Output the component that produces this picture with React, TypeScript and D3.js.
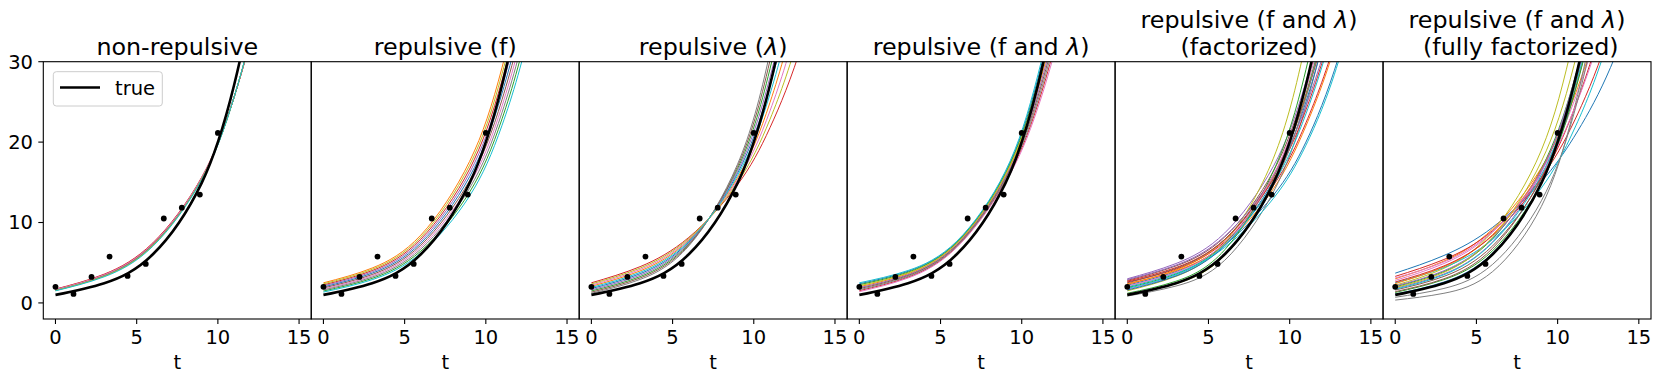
import React from 'react';
import * as d3 from 'd3';

const tKnots = [0, 3, 6, 9, 11, 13, 15];

// noisy observations (black dots)
const obsT = [0, 1.11, 2.22, 3.33, 4.44, 5.56, 6.67, 7.78, 8.89, 10];
const obsY = [2.0, 1.12, 3.23, 5.76, 3.36, 4.85, 10.5, 11.85, 13.47, 21.14];

// ground truth curve
const trueY = [1.0, 2.46, 6.05, 14.9, 27.1, 49.4, 90.0];

const xTicks = [0, 5, 10, 15];
const yTicks = [0, 10, 20, 30];

const panelTitles = [
  ['non-repulsive'],
  ['repulsive (f)'],
  ['repulsive (λ)'],
  ['repulsive (f and λ)'],
  ['repulsive (f and λ)', '(factorized)'],
  ['repulsive (f and λ)', ' (fully factorized)'],
];

// ensemble members per panel, colour = tab10 by index
const nonRepulsive = [
  [1.6, 3.4, 7.25, 15.45, 25.6, 42.3, 70],
  [1.68, 3.52, 7.4, 15.55, 25.6, 42.0, 69],
  [1.58, 3.38, 7.22, 15.43, 25.6, 42.4, 70],
  [1.72, 3.58, 7.48, 15.62, 25.6, 41.7, 68],
  [1.62, 3.44, 7.3, 15.5, 25.6, 42.2, 69],
  [1.64, 3.46, 7.33, 15.5, 25.6, 42.1, 69],
  [1.66, 3.5, 7.38, 15.55, 25.6, 42.0, 69],
  [1.56, 3.35, 7.18, 15.4, 25.6, 42.5, 71],
  [1.54, 3.32, 7.14, 15.38, 25.6, 42.6, 71],
  [1.5, 3.25, 7.05, 15.3, 25.6, 42.9, 72],
];

const repulsiveF = [
  [1.99, 3.7, 7.44, 15.69, 26.1, 43.7, 73],
  [2.5, 4.34, 8.44, 17.6, 29.3, 49.3, 83],
  [1.48, 3.05, 6.45, 13.78, 22.9, 38.2, 63.5],
  [2.24, 4.02, 7.94, 16.64, 27.7, 46.5, 78],
  [2.12, 3.86, 7.69, 16.17, 26.9, 45.1, 75.5],
  [1.86, 3.53, 7.2, 15.21, 25.3, 42.4, 71],
  [1.73, 3.37, 6.95, 14.73, 24.5, 41.0, 68.5],
  [1.61, 3.21, 6.7, 14.26, 23.7, 39.6, 66],
  [2.37, 4.18, 8.19, 17.12, 28.5, 47.9, 80],
  [1.35, 2.89, 6.2, 13.3, 22.1, 36.8, 61],
];

const repulsiveLambda = [
  [1.78, 3.63, 7.56, 16.12, 27.02, 45.73, 77],
  [2.07, 3.98, 7.8, 15.55, 24.93, 40.4, 65],
  [1.49, 3.27, 7.33, 16.68, 29.11, 51.07, 89],
  [2.5, 4.51, 8.15, 14.7, 21.8, 32.4, 48],
  [1.63, 3.45, 7.44, 16.4, 28.07, 48.4, 83],
  [1.34, 3.1, 7.21, 16.97, 30.16, 53.73, 95],
  [2.21, 4.16, 7.91, 15.27, 23.89, 37.73, 60],
  [1.2, 2.92, 7.09, 17.25, 31.2, 56.4, 101],
  [2.36, 4.33, 8.03, 14.98, 22.84, 35.07, 54],
  [1.92, 3.8, 7.68, 15.83, 25.98, 43.07, 71],
];

const repulsiveFLambda = [
  [2.38, 3.93, 7.58, 16.24, 27.94, 48.1, 82.5],
  [2.01, 3.62, 7.33, 15.78, 26.58, 45.1, 76.5],
  [2.26, 3.82, 7.5, 16.09, 27.49, 47.1, 80.5],
  [1.52, 3.2, 6.99, 15.16, 24.76, 41.0, 68],
  [1.89, 3.51, 7.24, 15.62, 26.12, 44.0, 74],
  [1.77, 3.41, 7.16, 15.47, 25.67, 43.0, 72],
  [1.4, 3.1, 6.9, 15.0, 24.3, 40.0, 66],
  [1.64, 3.31, 7.07, 15.31, 25.21, 42.0, 70],
  [2.13, 3.72, 7.41, 15.93, 27.03, 46.1, 78.5],
  [2.5, 4.03, 7.67, 16.4, 28.4, 49.1, 85],
];

const factorized = [
  [2.2, 3.9, 7.2, 13.4, 20.0, 30.5, 46],
  [2.4, 4.0, 7.3, 14.2, 22.0, 33.5, 51],
  [1.9, 3.6, 7.4, 15.6, 26.0, 43.0, 71],
  [2.6, 4.2, 7.6, 14.6, 22.4, 34.0, 51.6],
  [3.0, 4.9, 8.7, 17.0, 27.5, 45.0, 73.6],
  [2.8, 4.6, 8.2, 16.4, 27.0, 44.0, 71.7],
  [1.7, 3.4, 7.2, 15.8, 27.0, 46.0, 78],
  [0.85, 2.1, 5.3, 13.8, 24.5, 43.0, 75.5],
  [1.5, 3.3, 7.5, 18.0, 32.5, 57.0, 100],
  [2.0, 3.7, 6.9, 13.0, 19.6, 30.0, 46],
  [1.6, 3.35, 7.1, 15.2, 25.0, 41.0, 67],
  [2.3, 4.1, 7.8, 15.8, 25.8, 41.5, 66.8],
  [1.2, 2.7, 6.6, 16.4, 29.0, 52.0, 93],
  [2.7, 4.4, 7.9, 15.4, 24.0, 37.5, 58.6],
  [2.9, 4.7, 8.3, 15.8, 24.5, 38.0, 59],
  [2.5, 4.3, 7.9, 15.9, 25.7, 41.5, 67],
  [2.1, 3.8, 7.5, 15.9, 26.5, 44.0, 73],
  [1.1, 2.5, 5.9, 14.6, 25.5, 44.0, 76],
  [1.0, 2.4, 5.9, 15.0, 27.0, 48.0, 85],
  [1.8, 3.5, 7.2, 14.8, 23.5, 37.0, 58],
];

const fullyFactorized = [
  [3.7, 5.9, 9.4, 15.1, 20.6, 28.1, 38.4],
  [3.0, 5.2, 9.2, 16.8, 25.5, 38.5, 58],
  [2.0, 3.9, 8.0, 16.7, 27.5, 45, 73],
  [3.3, 5.4, 9.0, 15.6, 22.5, 32.5, 47],
  [1.8, 3.6, 7.6, 16.3, 27.5, 46, 77],
  [1.6, 3.3, 7.1, 15.4, 26.0, 44, 74],
  [2.8, 4.9, 8.8, 16.4, 25.0, 38.0, 57],
  [0.35, 1.2, 3.9, 12.0, 24.0, 46, 88],
  [2.2, 4.3, 8.9, 19.0, 33.0, 55, 92],
  [2.5, 4.4, 7.9, 14.3, 21.5, 32.0, 48],
  [1.1, 2.6, 6.2, 14.8, 26.5, 47, 82],
  [2.4, 4.5, 8.5, 16.6, 26.5, 42, 66],
  [1.3, 2.9, 6.5, 14.9, 25.8, 44, 75],
  [2.6, 4.6, 8.4, 15.6, 24.0, 37, 57],
  [2.1, 4.0, 8.1, 16.5, 27.0, 44, 72],
  [1.4, 3.0, 6.8, 15.6, 27.0, 47, 81],
  [3.1, 5.1, 8.9, 16.0, 24.0, 36, 54],
  [0.7, 1.8, 4.8, 12.7, 23.5, 43, 78],
  [1.9, 3.8, 8.2, 17.6, 29.5, 50, 84],
  [1.7, 3.5, 7.5, 15.9, 26.5, 43, 70],
];

const ensembles = [nonRepulsive, repulsiveF, repulsiveLambda, repulsiveFLambda, factorized, fullyFactorized];

const W = 1661;
const H = 382;
const plotLeft = 43.3;
const plotRight = 1651;
const plotTop = 61.7;
const plotBottom = 319;
const panelW = (plotRight - plotLeft) / 6;
const font = '"DejaVu Sans", sans-serif';
const tickSize = 19.5;

const TitleLine = ({ text, x, y }: { text: string; x: number; y: number }) => {
  const parts = text.split('λ');
  return (
    <text x={x} y={y} textAnchor="middle" fontSize={23.8} fontFamily={font} fill="#000" style={{ whiteSpace: 'pre' }}>
      {parts.map((p, i) => (
        <React.Fragment key={i}>
          <tspan>{p}</tspan>
          {i < parts.length - 1 && <tspan fontStyle="italic">λ</tspan>}
        </React.Fragment>
      ))}
    </text>
  );
};

const App = () => {
  const y = d3.scaleLinear().domain([-2, 30]).range([plotBottom, plotTop]);
  const colors = d3.schemeCategory10;

  return (
    <div>
      <style>{`body{margin:0}`}</style>
      <svg width={W} height={H} style={{ display: 'block', background: '#fff' }}>
        <defs>
          {ensembles.map((_, p) => (
            <clipPath id={`clip-${p}`} key={p}>
              <rect x={plotLeft + p * panelW} y={plotTop} width={panelW} height={plotBottom - plotTop} />
            </clipPath>
          ))}
        </defs>
        {ensembles.map((members, p) => {
          const x0 = plotLeft + p * panelW;
          const x = d3.scaleLinear().domain([-0.75, 15.75]).range([x0, x0 + panelW]);
          const line = d3
            .line<number>()
            .x((_, i) => x(tKnots[i]))
            .y((d) => y(d))
            .curve(d3.curveNatural);
          const title = panelTitles[p];
          const cx = x0 + panelW / 2;
          return (
            <g key={p}>
              <g clipPath={`url(#clip-${p})`}>
                {members.map((m, i) => (
                  <path key={i} d={line(m) || ''} fill="none" stroke={colors[i % 10]} strokeWidth={1} />
                ))}
                <path d={line(trueY) || ''} fill="none" stroke="#000" strokeWidth={2.6} />
                {obsT.map((t, i) => (
                  <circle key={i} cx={x(t)} cy={y(obsY[i])} r={2.9} fill="#000" />
                ))}
              </g>
              <rect x={x0} y={plotTop} width={panelW} height={plotBottom - plotTop} fill="none" stroke="#000" strokeWidth={1.1} />
              {xTicks.map((t) => (
                <g key={t}>
                  <line x1={x(t)} x2={x(t)} y1={plotBottom} y2={plotBottom + 5} stroke="#000" strokeWidth={1.1} />
                  <text x={x(t)} y={344} textAnchor="middle" fontSize={tickSize} fontFamily={font}>
                    {t}
                  </text>
                </g>
              ))}
              <text x={cx} y={368.5} textAnchor="middle" fontSize={tickSize} fontFamily={font}>
                t
              </text>
              {title.map((ln, k) => (
                <TitleLine key={k} text={ln} x={cx} y={54.5 - (title.length - 1 - k) * 26.8} />
              ))}
            </g>
          );
        })}
        {yTicks.map((v) => (
          <g key={v}>
            <line x1={plotLeft - 5} x2={plotLeft} y1={y(v)} y2={y(v)} stroke="#000" strokeWidth={1.1} />
            <text x={33} y={y(v) + 6.8} textAnchor="end" fontSize={tickSize} fontFamily={font}>
              {v}
            </text>
          </g>
        ))}
        <g>
          <rect x={53.3} y={71.7} width={109} height={34.3} rx={3} fill="#fff" fillOpacity={0.8} stroke="#cccccc" strokeWidth={1} />
          <line x1={60} x2={100} y1={87.5} y2={87.5} stroke="#000" strokeWidth={2.6} />
          <text x={115} y={94.5} fontSize={tickSize} fontFamily={font}>
            true
          </text>
        </g>
      </svg>
    </div>
  );
};

export default App;
